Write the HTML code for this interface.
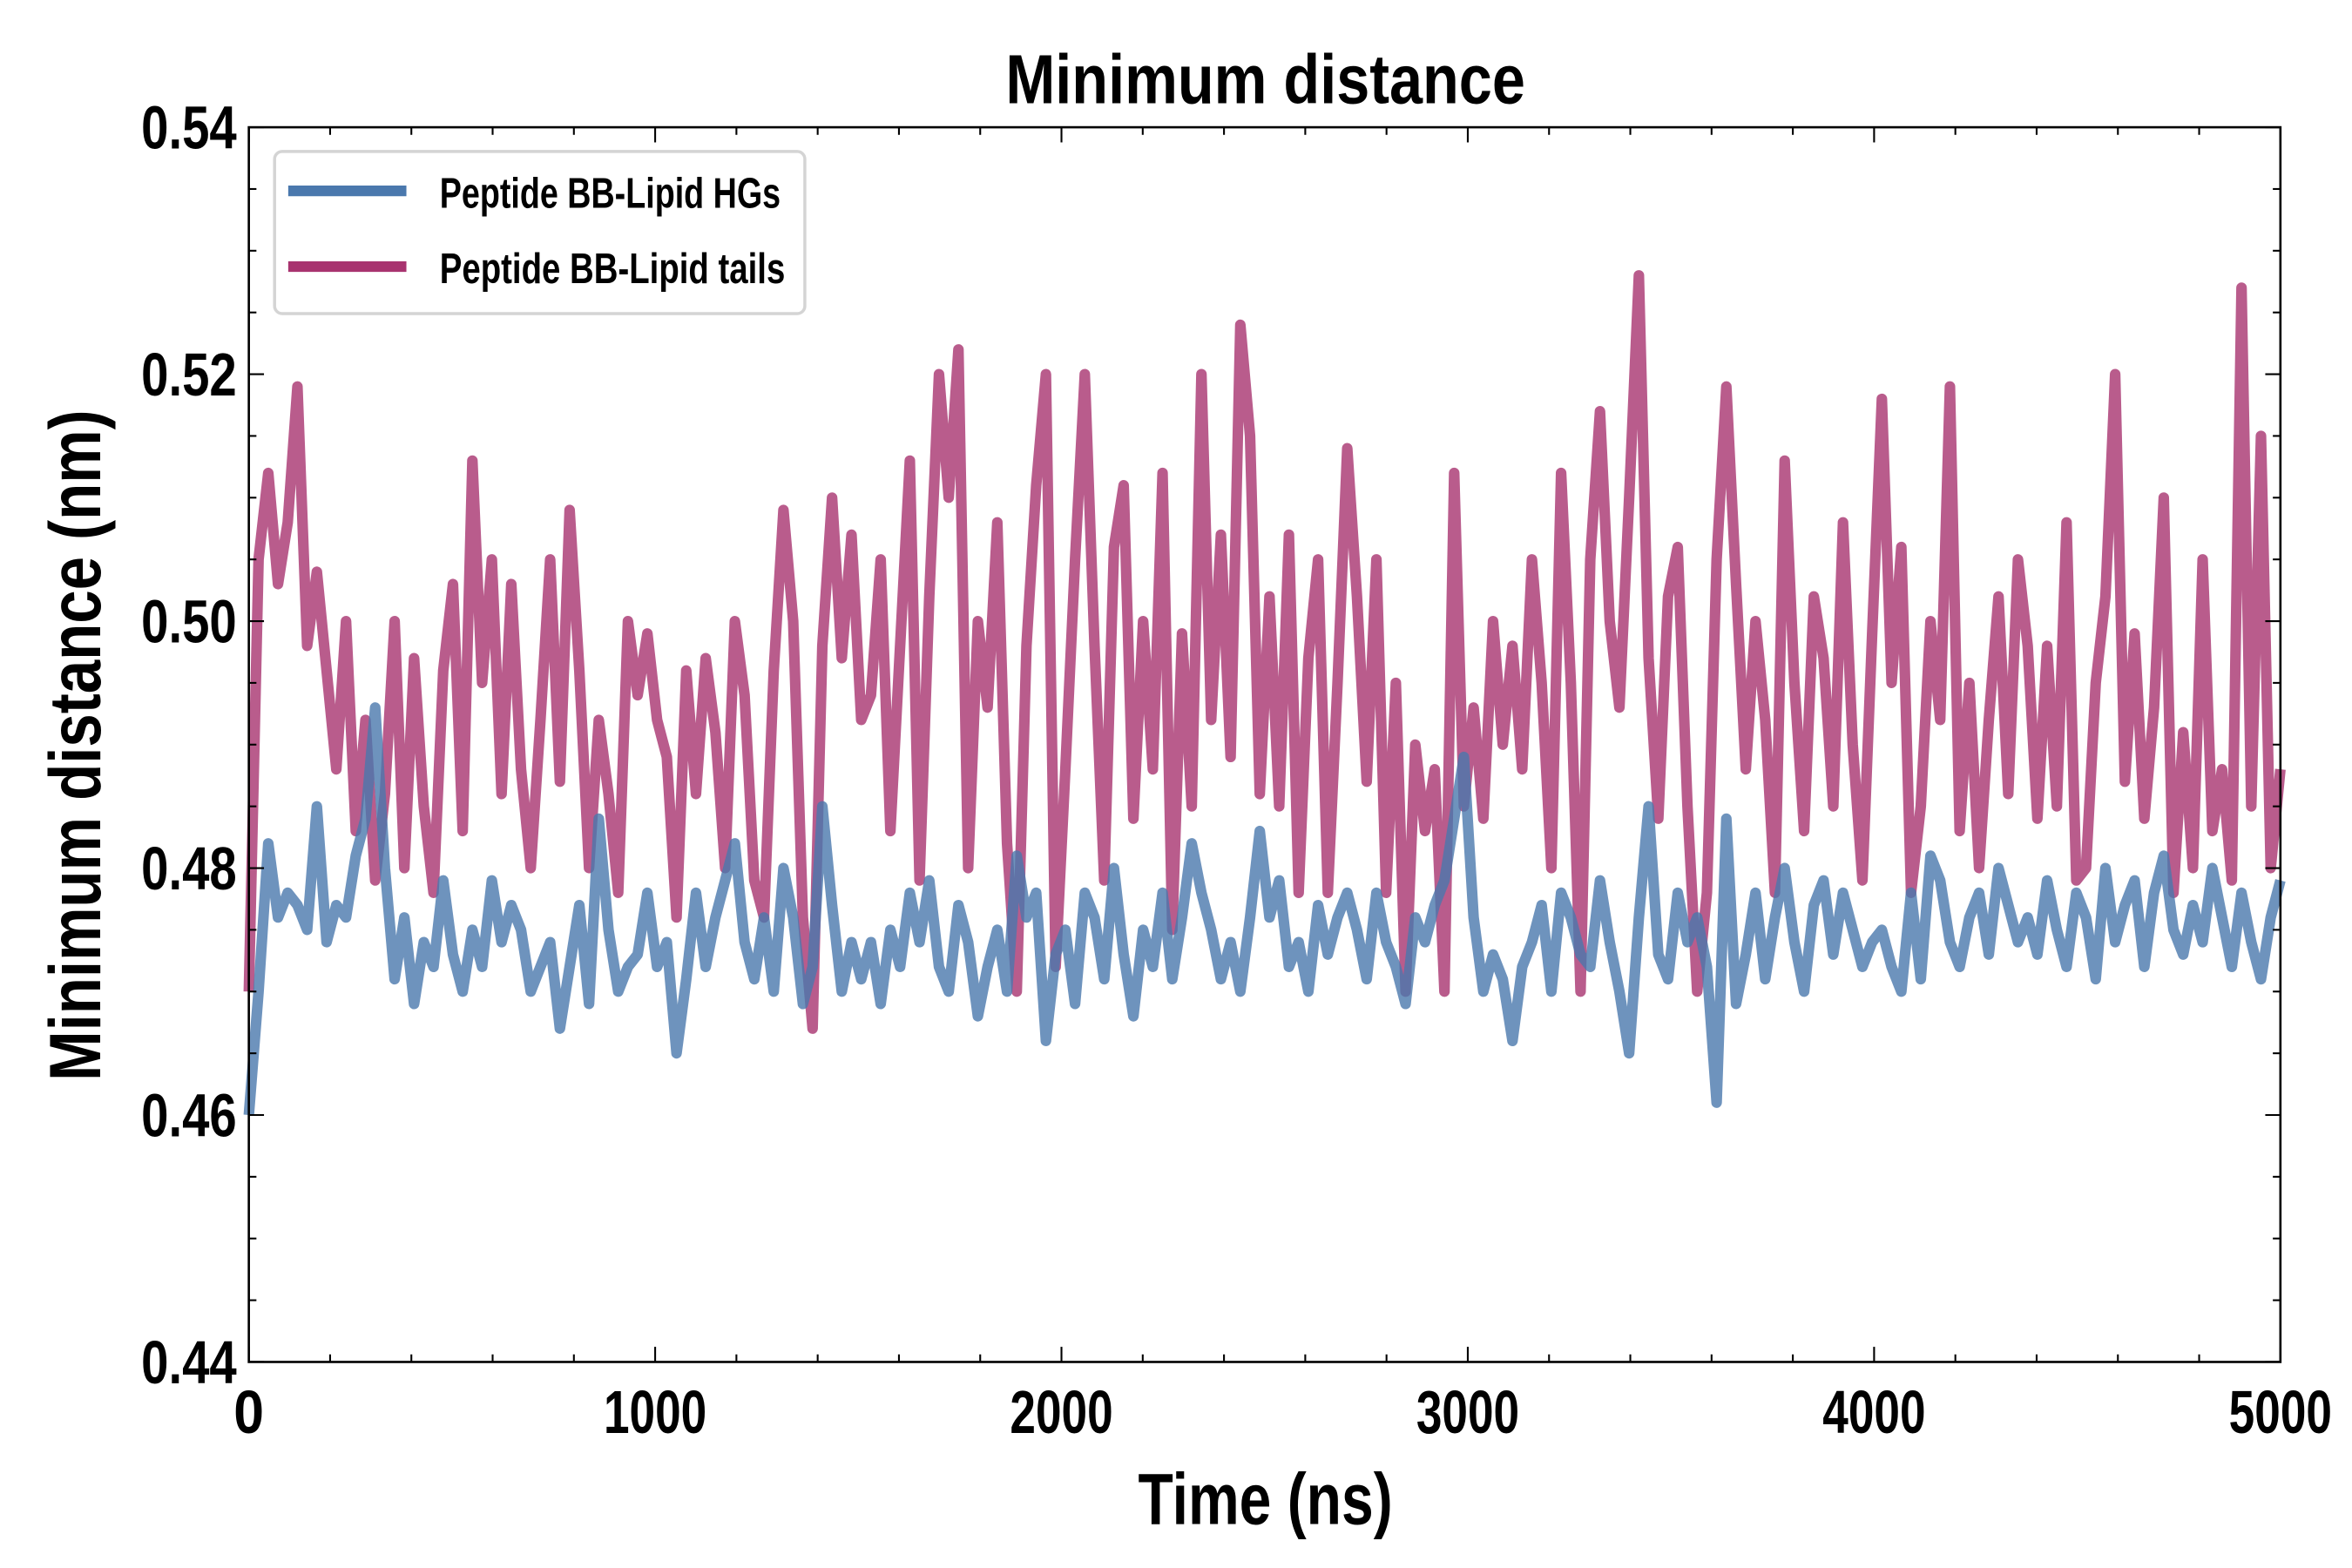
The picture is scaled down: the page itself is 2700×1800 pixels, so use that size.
<!DOCTYPE html>
<html><head><meta charset="utf-8"><style>
html,body{margin:0;padding:0;background:#fff;}
svg{display:block;}
text{font-family:"Liberation Sans Narrow","Liberation Sans",sans-serif;font-weight:bold;fill:#000;}
</style></head><body>
<svg id="chart" width="2700" height="1800" viewBox="0 0 1552 1035" xmlns="http://www.w3.org/2000/svg">
<text x="835" y="68" text-anchor="middle" font-size="46" textLength="343" lengthAdjust="spacingAndGlyphs">Minimum distance</text>
<text x="835" y="1006" text-anchor="middle" font-size="48" textLength="168" lengthAdjust="spacingAndGlyphs">Time (ns)</text>
<text transform="translate(66,492) rotate(-90)" text-anchor="middle" font-size="48" textLength="443" lengthAdjust="spacingAndGlyphs">Minimum distance (nm)</text>
<g id="plot"></g>
<rect x="164" y="84" width="1341" height="815" fill="none" stroke="#000" stroke-width="1.5"/>
<g id="ticks"></g>
<g>
<rect x="181" y="100" width="350" height="107" rx="5" fill="#fff" fill-opacity="0.85" stroke="#d4d4d4" stroke-width="2"/>
<line x1="190" y1="126" x2="268" y2="126" stroke="#4a78ad" stroke-width="7"/>
<text x="290" y="137" font-size="28" textLength="225" lengthAdjust="spacingAndGlyphs">Peptide BB-Lipid HGs</text>
<line x1="190" y1="176" x2="268" y2="176" stroke="#a8336f" stroke-width="7"/>
<text x="290" y="187" font-size="28" textLength="228" lengthAdjust="spacingAndGlyphs">Peptide BB-Lipid tails</text>
</g>
</svg>
<script>
const xTicks = [0,1000,2000,3000,4000,5000];
const yTicks = [0.44,0.46,0.48,0.50,0.52,0.54];
const yTickLabels = ["0.44","0.46","0.48","0.50","0.52","0.54"];
const tailsValues = [0.470,0.505,0.512,0.503,0.508,0.519,0.498,0.504,0.496,0.488,0.500,0.483,0.492,0.479,0.486,0.500,0.480,0.497,0.485,0.478,0.496,
0.503,0.483,0.513,0.495,0.505,0.486,0.503,0.488,0.480,0.492,0.505,0.487,0.509,0.496,0.480,0.492,0.486,0.478,0.500,0.494,0.499,
0.492,0.489,0.476,0.496,0.486,0.497,0.491,0.480,0.500,0.494,0.479,0.476,0.496,0.509,0.500,0.476,0.467,0.498,0.510,0.497,0.507,
0.492,0.494,0.505,0.483,0.498,0.513,0.479,0.502,0.520,0.510,0.522,0.480,0.500,0.493,0.508,0.482,0.470,0.498,0.511,0.520,0.472,
0.488,0.505,0.520,0.498,0.479,0.506,0.511,0.484,0.500,0.488,0.512,0.475,0.499,0.485,0.520,0.492,0.507,0.489,0.524,0.515,0.486,
0.502,0.485,0.507,0.478,0.497,0.505,0.478,0.495,0.514,0.502,0.487,0.505,0.478,0.495,0.470,0.490,0.483,0.488,0.470,0.512,0.485,
0.493,0.484,0.500,0.490,0.498,0.488,0.505,0.495,0.480,0.512,0.495,0.470,0.505,0.517,0.500,0.493,0.510,0.528,0.497,0.484,0.502,
0.506,0.485,0.470,0.478,0.505,0.519,0.503,0.488,0.500,0.492,0.478,0.513,0.495,0.483,0.502,0.497,0.485,0.508,0.490,0.479,0.499,
0.518,0.495,0.506,0.478,0.485,0.500,0.492,0.519,0.483,0.495,0.480,0.492,0.502,0.486,0.505,0.498,0.484,0.498,0.485,0.508,0.479,
0.480,0.495,0.502,0.520,0.487,0.499,0.484,0.493,0.510,0.478,0.491,0.480,0.505,0.483,0.488,0.479,0.527,0.485,0.515,0.480,0.488];
const hgsValues = [0.460,0.470,0.482,0.476,0.478,0.477,0.475,0.485,0.474,0.477,0.476,0.481,0.484,0.493,0.480,0.471,0.476,0.469,0.474,0.472,0.479,
0.473,0.470,0.475,0.472,0.479,0.474,0.477,0.475,0.470,0.472,0.474,0.467,0.472,0.477,0.469,0.484,0.475,0.470,0.472,0.473,0.478,
0.472,0.474,0.465,0.471,0.478,0.472,0.476,0.479,0.482,0.474,0.471,0.476,0.470,0.480,0.476,0.469,0.472,0.485,0.477,0.470,0.474,
0.471,0.474,0.469,0.475,0.472,0.478,0.474,0.479,0.472,0.470,0.477,0.474,0.468,0.472,0.475,0.470,0.481,0.476,0.478,0.466,0.473,
0.475,0.469,0.478,0.476,0.471,0.480,0.473,0.468,0.475,0.472,0.478,0.471,0.476,0.482,0.478,0.475,0.471,0.474,0.470,0.476,0.483,
0.476,0.479,0.472,0.474,0.470,0.477,0.473,0.476,0.478,0.475,0.471,0.478,0.474,0.472,0.469,0.476,0.474,0.477,0.479,0.484,0.489,
0.476,0.470,0.473,0.471,0.466,0.472,0.474,0.477,0.470,0.478,0.476,0.473,0.472,0.479,0.474,0.470,0.465,0.476,0.485,0.473,0.471,
0.478,0.474,0.476,0.472,0.461,0.484,0.469,0.473,0.478,0.471,0.476,0.480,0.474,0.470,0.477,0.479,0.473,0.478,0.475,0.472,0.474,
0.475,0.472,0.470,0.478,0.471,0.481,0.479,0.474,0.472,0.476,0.478,0.473,0.480,0.477,0.474,0.476,0.473,0.479,0.475,0.472,0.478,
0.476,0.471,0.480,0.474,0.477,0.479,0.472,0.478,0.481,0.475,0.473,0.477,0.474,0.480,0.476,0.472,0.478,0.474,0.471,0.476,0.479];

const NS='http://www.w3.org/2000/svg';
const X0=164,X1=1505,Y0=899,Y1=84;
function xs(t){return X0+(t-0)/(5000-0)*(X1-X0);}
function ys(v){return Y0-(v-0.44)/(0.54-0.44)*(Y0-Y1);}
const plot=document.getElementById('plot');
const ticks=document.getElementById('ticks');
function mk(tag,attrs,parent){const e=document.createElementNS(NS,tag);for(const k in attrs)e.setAttribute(k,attrs[k]);parent.appendChild(e);return e;}
function series(vals,color,name){
  const n=vals.length;
  const d=vals.map((v,i)=>(i?'L':'M')+xs(i/(n-1)*5000).toFixed(2)+' '+ys(v).toFixed(2)).join(' ');
  const p=mk('path',{d:d,fill:'none',stroke:color,'stroke-width':7,'stroke-linejoin':'round','stroke-opacity':0.8},plot);
  
  
}
series(tailsValues,'#a8336f','series-tails-line');
series(hgsValues,'#4a78ad','series-hgs-line');
for(let t=0;t<=5000;t+=200){
  const x=xs(t),L=(t%1000===0)?10:5;
  mk('line',{x1:x,y1:Y0,x2:x,y2:Y0-L,stroke:'#000','stroke-width':1.2},ticks);
  mk('line',{x1:x,y1:Y1,x2:x,y2:Y1+L,stroke:'#000','stroke-width':1.2},ticks);
}
for(let k=0;k<=20;k++){
  const y=ys(0.44+k*0.005),L=(k%4===0)?10:5;
  mk('line',{x1:X0,y1:y,x2:X0+L,y2:y,stroke:'#000','stroke-width':1.2},ticks);
  mk('line',{x1:X1,y1:y,x2:X1-L,y2:y,stroke:'#000','stroke-width':1.2},ticks);
}
xTicks.forEach(t=>{
  const s=String(t);
  const e=mk('text',{x:xs(t),y:946,'text-anchor':'middle','font-size':40,textLength:(s.length===1?20:68),lengthAdjust:'spacingAndGlyphs'},ticks);
  e.textContent=s;
  
  
});
yTicks.forEach((v,i)=>{
  const e=mk('text',{x:156,y:ys(v)+14,'text-anchor':'end','font-size':40,textLength:63,lengthAdjust:'spacingAndGlyphs'},ticks);
  e.textContent=yTickLabels[i];
  
  
});
</script>
</body></html>
